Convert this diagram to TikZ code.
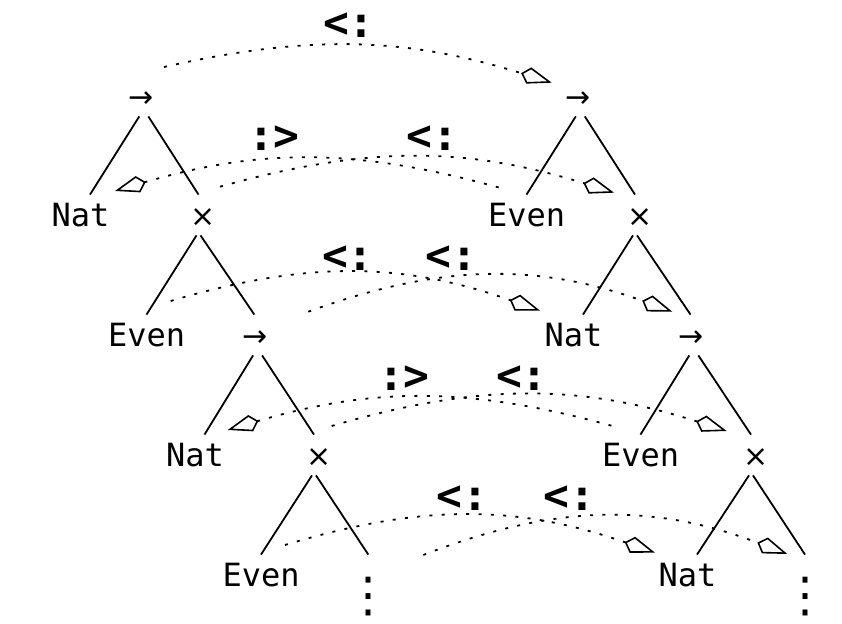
\documentclass[tikz,border=0pt]{standalone}
\usepackage{fontspec}
\newfontfamily\tyfont{DejaVu Sans Mono}
\newfontfamily\opfont{DejaVu Sans}
\usetikzlibrary{arrows.meta}

\tikzset{subtyping/.style={x=0.5pt,y=0.5pt}}
\tikzset{ty/.style={font=\fontsize{16}{19}\tyfont,inner sep=0pt,text height=11.6pt,text depth=0pt,minimum height=20pt},
         leaf/.style={ty,text width=38.5pt,align=left},
         ctor/.style={ty,font=\fontsize{15}{19}\opfont},
         more/.style={ty,font=\fontsize{24}{28}\opfont,text height=17pt,minimum height=40pt},
         rel/.style={font=\fontsize{21.5}{24}\tyfont\bfseries,inner sep=0pt},
         edge/.style={line width=0.9pt},
         opk/.tip={Kite[open,length=16pt,width=8.5pt,inset=4pt,line width=0.8pt]},
         dots/.style={line width=0.9pt,dash pattern=on 1.5pt off 4.65pt},
         sub/.style={dots,-opk},
         super/.style={dots,opk-}}

\begin{document}
\begin{tikzpicture}[subtyping]
    \useasboundingbox (0,0) rectangle (842,624);
    % left type
    \node[ctor] (l0)  at (141.5,528) {→};
    \node[leaf] (l1a) at (90,409)    {Nat};
    \node[ctor] (l1b) at (203.5,409) {×};
    \node[leaf] (l2a) at (146.5,289) {Even};
    \node[ctor] (l2b) at (255.3,289) {→};
    \node[leaf] (l3a) at (204.5,169) {Nat};
    \node[ctor] (l3b) at (319,169)   {×};
    \node[leaf] (l4a) at (261,49)    {Even};
    \node[more] (l4b) at (368.3,29)  {⋮};
    % right type
    \node[ctor] (r0)  at (578,528)   {→};
    \node[leaf] (r1a) at (526.5,409) {Even};
    \node[ctor] (r1b) at (640,409)   {×};
    \node[leaf] (r2a) at (583,289)   {Nat};
    \node[ctor] (r2b) at (691.5,289) {→};
    \node[leaf] (r3a) at (640.5,169) {Even};
    \node[ctor] (r3b) at (756,169)   {×};
    \node[leaf] (r4a) at (697,49)    {Nat};
    \node[more] (r4b) at (805,29)    {⋮};
    \foreach \t in {l,r} {
        \draw[edge] ([xshift=-1.1pt]\t0.south)  -- (\t1a.north);
        \draw[edge] ([xshift=3.4pt]\t0.south)   -- ([xshift=-2.5pt]\t1b.north);
        \draw[edge] ([xshift=-3.5pt]\t1b.south) -- (\t2a.north);
        \draw[edge] ([xshift=-1.5pt]\t1b.south) -- ([xshift=-0.5pt]\t2b.north);
        \draw[edge] ([xshift=-1.1pt]\t2b.south) -- (\t3a.north);
        \draw[edge] ([xshift=3.4pt]\t2b.south)  -- ([xshift=-2.5pt]\t3b.north);
        \draw[edge] ([xshift=-3.5pt]\t3b.south) -- (\t4a.north);
        \draw[edge] ([xshift=-1.5pt]\t3b.south) -- (\t4b.north);
    }
    % subtyping steps
    \draw[sub]   ([shift={(22.5,29)}]l0.center)  to[bend left=15]   ([shift={(-26.3,13.3)}]r0.center);
    \draw[super] ([shift={(25,24)}]l1a.center)   to[bend left=16]   ([shift={(-24.8,26.7)}]r1a.center);
    \draw[sub]   ([shift={(16.5,28.3)}]l1b.center) to[bend left=16.5] ([shift={(-26,22.3)}]r1b.center);
    \draw[sub]   ([shift={(24.2,34)}]l2a.center) to[bend left=18]   ([shift={(-43,24.3)}]r2a.center);
    \draw[sub]   ([shift={(53,23.3)}]l2b.center) to[bend left=20]   ([shift={(-19.2,23.3)}]r2b.center);
    \draw[super] ([shift={(23.2,25)}]l3a.center) to[bend left=16]   ([shift={(-25.5,28.3)}]r3a.center);
    \draw[sub]   ([shift={(12.7,29)}]l3b.center) to[bend left=17]   ([shift={(-29.3,24)}]r3b.center);
    \draw[sub]   ([shift={(24,30)}]l4a.center)   to[bend left=18]   ([shift={(-42,22.3)}]r4a.center);
    \draw[sub]   ([shift={(55,40)}]l4b.center)   to[bend left=21]   ([shift={(-17.7,41)}]r4b.center);
    % relations
    \node[rel] (s0)  at (349,599) {<:};
    \node[rel] (s1a) at (274,486) {:>};
    \node[rel] (s1b) at (432,486) {<:};
    \node[rel] (s2a) at (348,366) {<:};
    \node[rel] (s2b) at (451,366) {<:};
    \node[rel] (s3a) at (404,246) {:>};
    \node[rel] (s3b) at (522,246) {<:};
    \node[rel] (s4a) at (462,126) {<:};
    \node[rel] (s4b) at (569,126) {<:};
\end{tikzpicture}
\end{document}
